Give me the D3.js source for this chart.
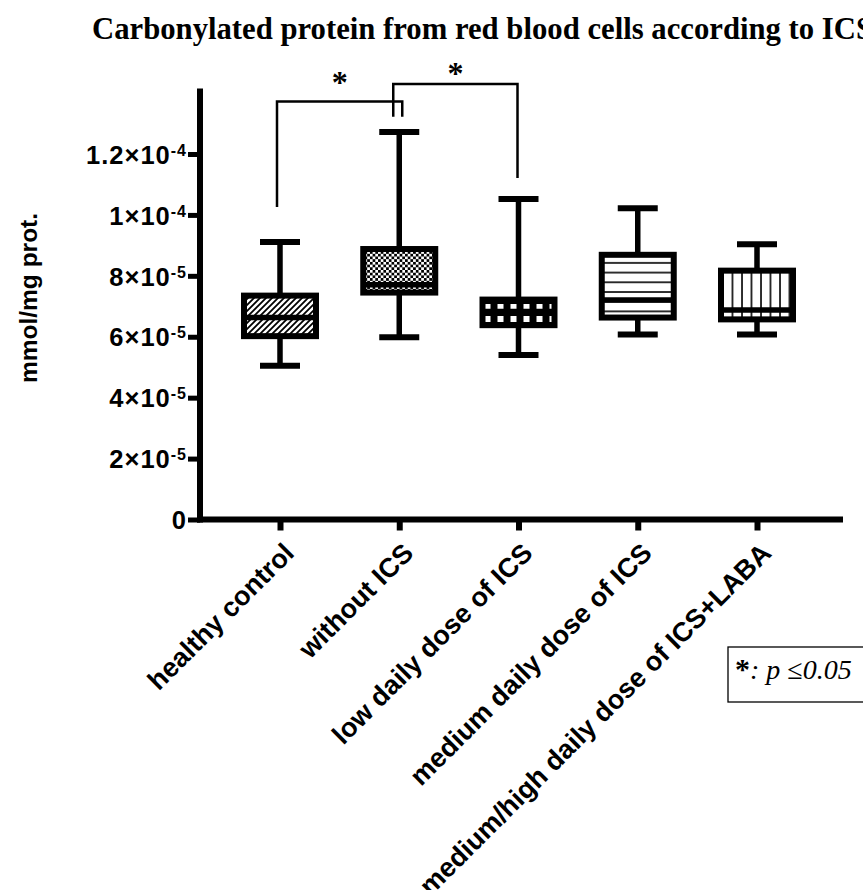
<!DOCTYPE html>
<html>
<head>
<meta charset="utf-8">
<script src="https://cdn.jsdelivr.net/npm/d3@7"></script>
<style>
	body{margin:0;background:#fff;}
	svg{display:block;}
	text{fill:#000;}
</style>
</head>
<body>
<svg id="CHART" width="863" height="890"></svg>
<script>
// data
var categories = ["healthy control", "without ICS", "low daily dose of ICS", "medium daily dose of ICS", "medium/high daily dose of ICS+LABA"];
var whiskerLow = [5.05e-5, 5.98e-5, 5.40e-5, 6.07e-5, 6.07e-5];
var q1 = [6.02e-5, 7.45e-5, 6.38e-5, 6.63e-5, 6.57e-5];
var median = [6.63e-5, 7.71e-5, 6.83e-5, 7.21e-5, 6.88e-5];
var q3 = [7.35e-5, 8.88e-5, 7.22e-5, 8.69e-5, 8.17e-5];
var whiskerHigh = [9.11e-5, 1.272e-4, 1.052e-4, 1.022e-4, 9.04e-5];
var fills = ["hatch", "checker", "squares", "hlines", "vlines"];

var yTicks = [0, 2e-5, 4e-5, 6e-5, 8e-5, 1e-4, 1.2e-4];
var yTickBase = ["0", "2×10", "4×10", "6×10", "8×10", "1×10", "1.2×10"];
var yTickExp = ["", "-5", "-5", "-5", "-5", "-4", "-4"];

// significance brackets: from / to category index, bar level, leg ends, star centre
var sigFrom = [0, 1];
var sigTo = [1, 2];
var sigLevel = [1.372e-4, 1.43e-4];
var sigLegFrom = [1.026e-4, 1.322e-4];
var sigLegTo = [1.322e-4, 1.121e-4];
var sigStar = [1.449e-4, 1.479e-4];

var titleText = "Carbonylated protein from red blood cells according to ICS";
var yTitle = "mmol/mg prot.";

(function(){
	var left = 200, right = 843, top = 88.5, bottom = 519.5;
	var boxHalf = 36, capHalf = 20;
	var sans = "'Liberation Sans',Arial,sans-serif",
		serif = "'Liberation Serif','Times New Roman',serif";

	var svg = d3.select("#CHART");

	/******** patterns ********/
	var defs = svg.append("defs");
	var p1 = defs.append("pattern").attr("id","hatch").attr("patternUnits","userSpaceOnUse").attr("width",6).attr("height",6);
	p1.append("rect").attr("width",6).attr("height",6).attr("fill","#fff");
	p1.append("path").attr("d","M0,6L6,0M-1.5,1.5L1.5,-1.5M4.5,7.5L7.5,4.5").attr("stroke","#000").attr("stroke-width",1.8);

	var p2 = defs.append("pattern").attr("id","checker").attr("patternUnits","userSpaceOnUse").attr("width",5.4).attr("height",5.4);
	p2.append("rect").attr("width",5.4).attr("height",5.4).attr("fill","#fff");
	p2.append("rect").attr("width",2.7).attr("height",2.7).attr("fill","#000");
	p2.append("rect").attr("x",2.7).attr("y",2.7).attr("width",2.7).attr("height",2.7).attr("fill","#000");

	var p3 = defs.append("pattern").attr("id","squares").attr("patternUnits","userSpaceOnUse").attr("width",13).attr("height",12).attr("y",1);
	p3.append("rect").attr("width",13).attr("height",12).attr("fill","#000");
	p3.append("rect").attr("x",3.5).attr("y",3).attr("width",6).attr("height",6).attr("fill","#fff");

	var p4 = defs.append("pattern").attr("id","hlines").attr("patternUnits","userSpaceOnUse").attr("width",10).attr("height",9.7);
	p4.append("rect").attr("width",10).attr("height",9.7).attr("fill","#fff");
	p4.append("line").attr("x1",0).attr("x2",10).attr("y1",1).attr("y2",1).attr("stroke","#000").attr("stroke-width",1.6);

	var p5 = defs.append("pattern").attr("id","vlines").attr("patternUnits","userSpaceOnUse").attr("width",9.5).attr("height",10);
	p5.append("rect").attr("width",9.5).attr("height",10).attr("fill","#fff");
	p5.append("line").attr("y1",0).attr("y2",10).attr("x1",1).attr("x2",1).attr("stroke","#000").attr("stroke-width",1.6);

	/******** scales ********/
	var x = d3.scalePoint().domain(categories).range([280, 757]);
	var y = d3.scaleLinear().domain([0, 1.415e-4]).range([bottom, top]);

	/******** title ********/
	svg.append("text")
		.attr("x", 92).attr("y", 39)
		.attr("textLength", 781).attr("lengthAdjust", "spacingAndGlyphs")
		.style("font-family", serif)
		.style("font-weight", "bold").style("font-size", "32px")
		.text(titleText);

	/******** y axis ********/
	var yAxis = svg.append("g").attr("class","y axis")
		.attr("transform","translate(" + left + ",0)")
		.call(d3.axisLeft(y).tickValues(yTicks).tickSize(9).tickSizeOuter(0).tickFormat(""));
	yAxis.select(".domain").attr("stroke-width",6).attr("d","M0," + top + "V" + (bottom + 3));
	yAxis.selectAll(".tick line").attr("stroke-width",5).attr("x2",-12);
	yAxis.selectAll(".tick").each(function(d, i){
		var t = d3.select(this).append("text")
			.attr("x", -13).attr("dy", "0.36em")
			.attr("text-anchor", "end")
			.style("font-family", sans)
			.style("letter-spacing", "1px")
			.style("font-weight", "bold").style("font-size", "25.5px");
		t.append("tspan").text(yTickBase[i]);
		if(yTickExp[i]){
			t.append("tspan").attr("dy","-0.5em").style("font-size","16px").text(yTickExp[i]);
		}
	});

	/******** x axis ********/
	var xAxis = svg.append("g").attr("class","x axis")
		.attr("transform","translate(0," + bottom + ")")
		.call(d3.axisBottom(x).tickSize(11).tickSizeOuter(0).tickFormat(""));
	xAxis.select(".domain").attr("stroke-width",6).attr("d","M" + (left - 3) + ",0H" + right);
	xAxis.selectAll(".tick line").attr("stroke-width",6);

	svg.append("g").selectAll("text")
		.data(categories).enter().append("text")
		.attr("transform", function(d){ return "translate(" + (x(d) + 9) + ",548) rotate(-45)"; })
		.attr("text-anchor","end").attr("dy","0.35em")
		.style("font-family", sans)
		.style("font-weight", "bold").style("font-size", "27px")
		.text(function(d){ return d; });

	/******** y title ********/
	svg.append("text")
		.attr("transform","translate(37,298) rotate(-90)")
		.attr("text-anchor","middle")
		.style("font-family", sans)
		.style("font-weight", "bold").style("font-size", "24.5px")
		.text(yTitle);

	/******** boxes ********/
	var boxes = svg.append("g").attr("class","boxes")
		.selectAll("g").data(categories).enter().append("g");

	boxes.append("line")
		.attr("x1", function(d){ return x(d); }).attr("x2", function(d){ return x(d); })
		.attr("y1", function(d, i){ return y(whiskerHigh[i]); })
		.attr("y2", function(d, i){ return y(whiskerLow[i]); })
		.attr("stroke","#000").attr("stroke-width",5.5);
	[whiskerHigh, whiskerLow].forEach(function(arr){
		boxes.append("line")
			.attr("x1", function(d){ return x(d) - capHalf; }).attr("x2", function(d){ return x(d) + capHalf; })
			.attr("y1", function(d, i){ return y(arr[i]); })
			.attr("y2", function(d, i){ return y(arr[i]); })
			.attr("stroke","#000").attr("stroke-width",6);
	});
	boxes.append("rect")
		.attr("x", function(d){ return x(d) - boxHalf; })
		.attr("width", boxHalf * 2)
		.attr("y", function(d, i){ return y(q3[i]); })
		.attr("height", function(d, i){ return y(q1[i]) - y(q3[i]); })
		.attr("fill", function(d, i){ return "url(#" + fills[i] + ")"; })
		.attr("stroke","#000").attr("stroke-width",6);
	boxes.append("line")
		.attr("x1", function(d){ return x(d) - boxHalf; }).attr("x2", function(d){ return x(d) + boxHalf; })
		.attr("y1", function(d, i){ return y(median[i]); })
		.attr("y2", function(d, i){ return y(median[i]); })
		.attr("stroke","#000").attr("stroke-width",5.5);

	/******** significance ********/
	var sig = svg.append("g").attr("class","sig");
	sigFrom.forEach(function(f, i){
		var x1 = x(categories[f]) - (i == 0 ? 3 : 6),
			x2 = x(categories[sigTo[i]]) + (i == 0 ? 3 : -1);
		sig.append("path")
			.attr("d", "M" + x1 + "," + y(sigLegFrom[i]) + "V" + y(sigLevel[i]) + "H" + x2 + "V" + y(sigLegTo[i]))
			.attr("fill","none").attr("stroke","#000").attr("stroke-width",2.5);
		sig.append("text")
			.attr("x", (x1 + x2) / 2).attr("y", y(sigStar[i]) + 15)
			.attr("text-anchor","middle")
			.style("font-family", serif)
			.style("font-weight", "bold").style("font-size", "32px")
			.text("*");
	});

	/******** legend ********/
	var lg = svg.append("g").attr("class","legend");
	lg.append("rect").attr("x",728).attr("y",647).attr("width",160).attr("height",55)
		.attr("fill","#fff").attr("stroke","#000").attr("stroke-width",1.3);
	var lt = lg.append("text").attr("x",735).attr("y",679)
		.style("font-family", serif).style("font-size","28px");
	lt.append("tspan").style("font-weight","bold").style("font-size","30px").text("*");
	lt.append("tspan").style("font-style","italic").text(": p ≤0.05");
})();
</script>
</body>
</html>
